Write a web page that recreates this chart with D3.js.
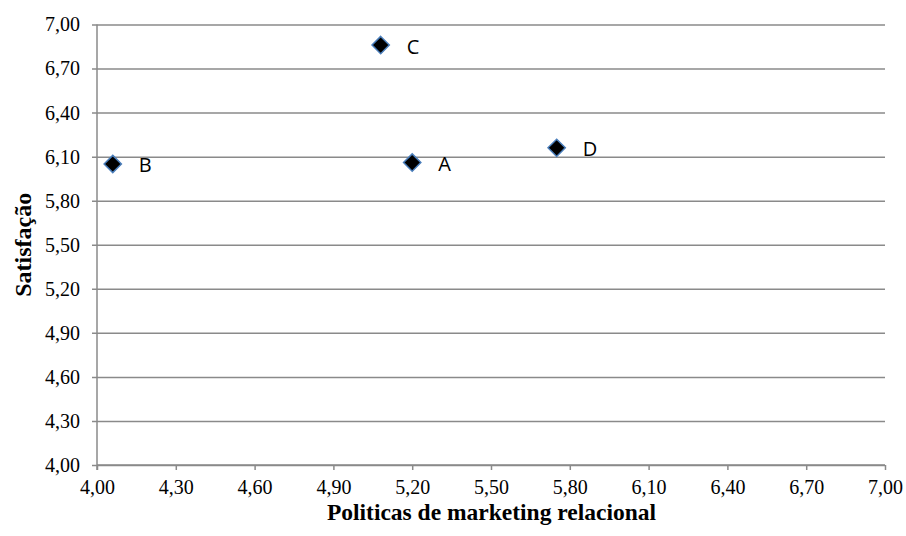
<!DOCTYPE html>
<html>
<head>
<meta charset="utf-8">
<script src="https://cdn.jsdelivr.net/npm/d3@7"></script>
<style>
  html, body { margin: 0; padding: 0; background: #fff; }
  svg { display: block; }
</style>
</head>
<body>
<svg id="chart" width="906" height="536"></svg>
<script>
// Company positions: relational marketing policies vs. satisfaction
const pointLabels = ["A", "B", "C", "D"];
const politicasValues = [5.20, 4.06, 5.08, 5.75];
const satisfacaoValues = [6.06, 6.05, 6.86, 6.16];
const tickValues = [4.00, 4.30, 4.60, 4.90, 5.20, 5.50, 5.80, 6.10, 6.40, 6.70, 7.00];

const xTitle = "Politicas de marketing relacional";
const yTitle = "Satisfação";

const svg = d3.select("#chart");
const margin = { left: 97, right: 21, top: 24.5, bottom: 71 };
const W = 906, H = 536;

const x = d3.scaleLinear().domain([4, 7]).range([margin.left, W - margin.right]);
const y = d3.scaleLinear().domain([4, 7]).range([H - margin.bottom, margin.top]);

const fmt = v => v.toFixed(2).replace(".", ",");
const gridColor = "#8a8a8a";
const serif = '"Liberation Serif", "Times New Roman", serif';

// Horizontal gridlines from the y axis ticks
const yAxis = d3.axisLeft(y).tickValues(tickValues)
  .tickSize(-(x.range()[1] - x.range()[0])).tickFormat(fmt).tickPadding(17);
const gy = svg.append("g").attr("transform", `translate(${margin.left},0)`).call(yAxis)
  .attr("font-family", serif).attr("font-size", 20);
gy.select(".domain").remove();
gy.selectAll(".tick line").attr("stroke", gridColor).attr("stroke-width", 1.5).attr("x1", -5);
gy.selectAll(".tick text").attr("fill", "#000");

// Vertical axis line
svg.append("line")
  .attr("x1", margin.left).attr("x2", margin.left)
  .attr("y1", y(7)).attr("y2", y(4) + 5)
  .attr("stroke", gridColor).attr("stroke-width", 1.5);

// X axis
const xAxis = d3.axisBottom(x).tickValues(tickValues).tickSize(5).tickFormat(fmt).tickPadding(10);
const gx = svg.append("g").attr("transform", `translate(0,${y(4)})`).call(xAxis)
  .attr("font-family", serif).attr("font-size", 20);
gx.select(".domain").attr("stroke", gridColor).attr("stroke-width", 1.5).attr("d", `M${x(4)},0H${x(7)}`);
gx.selectAll(".tick line").attr("stroke", gridColor).attr("stroke-width", 1.5);
gx.selectAll(".tick text").attr("fill", "#000");

// Axis titles
svg.append("text")
  .attr("x", (x(4) + x(7)) / 2 + 0.5).attr("y", 520)
  .attr("text-anchor", "middle")
  .attr("font-family", serif).attr("font-weight", "bold").attr("font-size", 23.5)
  .text(xTitle);

svg.append("text")
  .attr("transform", `translate(31,${(y(4) + y(7)) / 2}) rotate(-90)`)
  .attr("text-anchor", "middle")
  .attr("font-family", serif).attr("font-weight", "bold").attr("font-size", 24)
  .text(yTitle);

// Points
const data = pointLabels.map((l, i) => ({ label: l, px: politicasValues[i], py: satisfacaoValues[i] }));
const diamond = d3.symbol().type(d3.symbolDiamond2).size(190);

const pts = svg.append("g").selectAll("g").data(data).join("g")
  .attr("transform", d => `translate(${x(d.px)},${y(d.py)})`);

pts.append("path")
  .attr("d", diamond)
  .attr("fill", "#000")
  .attr("stroke", "#4a7ebb")
  .attr("stroke-width", 1.5);

pts.append("text")
  .attr("x", 26).attr("y", 8.5)
  .attr("font-family", '"Open Sans", "Liberation Sans", sans-serif')
  .attr("font-size", 20).attr("fill", "#000")
  .text(d => d.label);
</script>
</body>
</html>
